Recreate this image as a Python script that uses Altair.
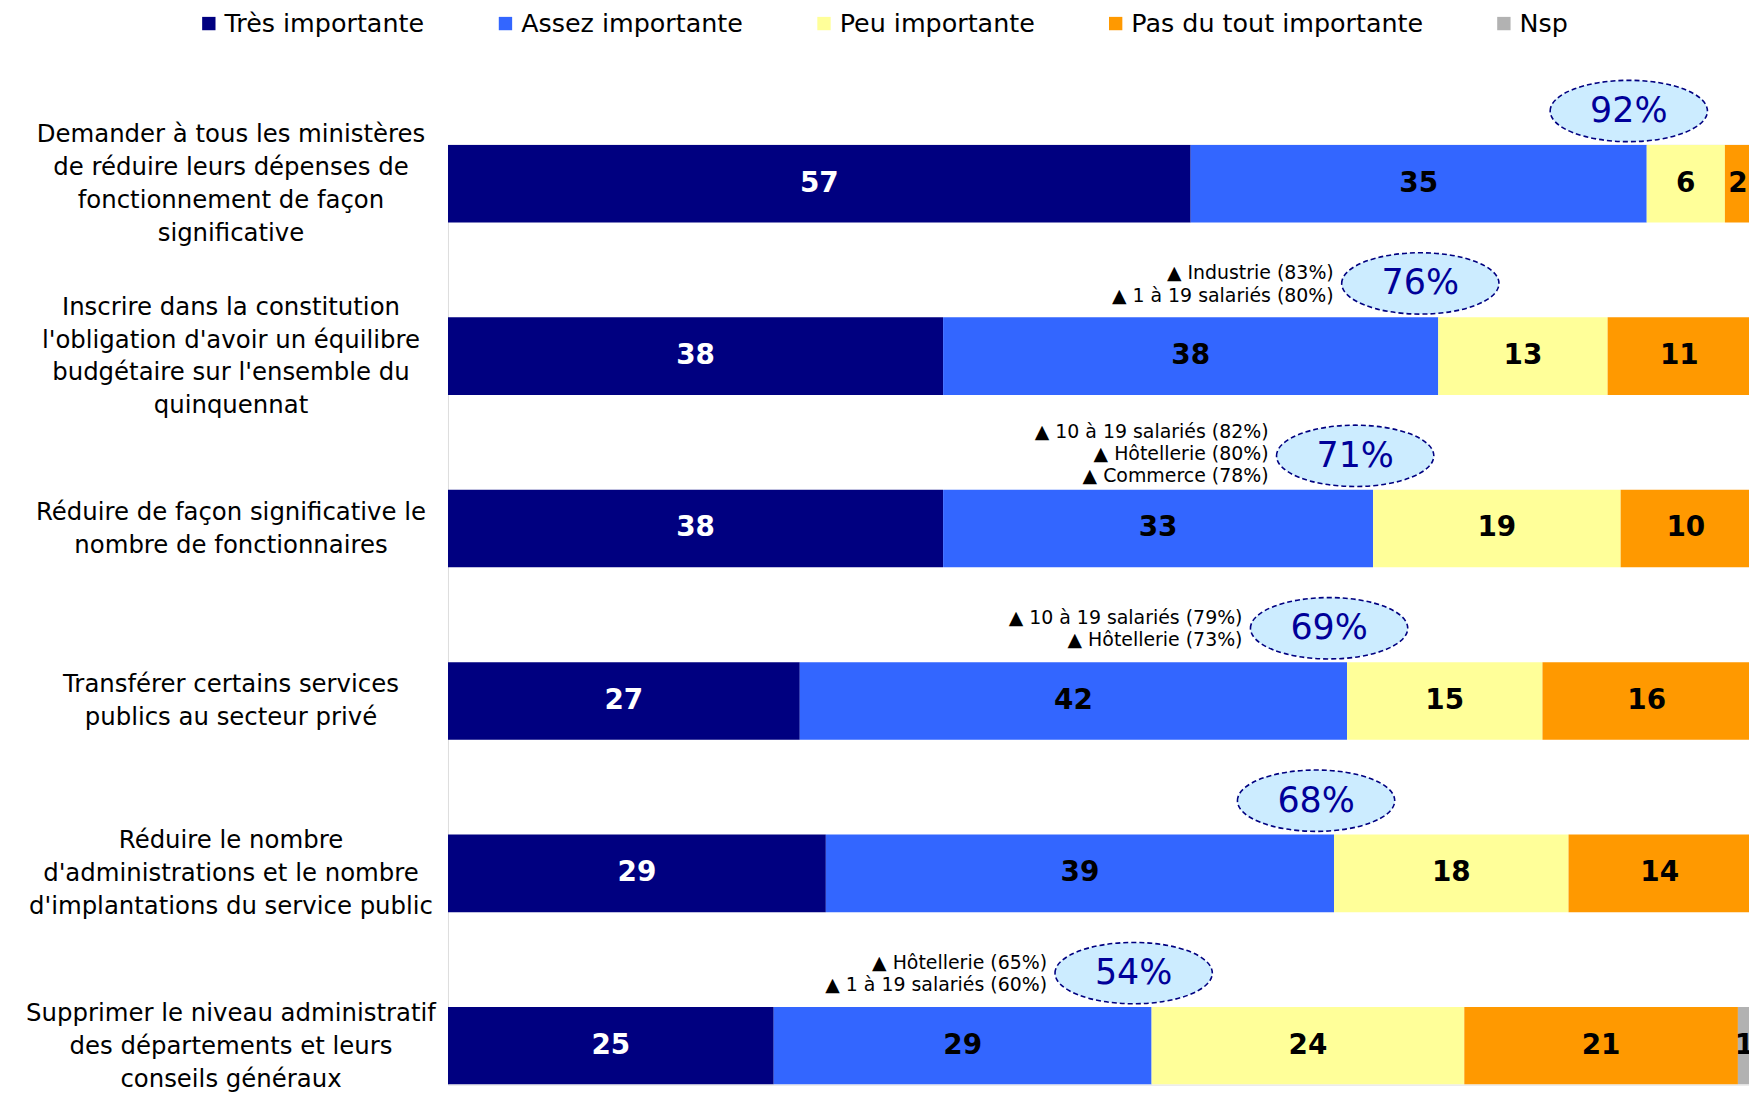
import altair as alt
import pandas as pd

categories = [
    "Demander à tous les ministères\nde réduire leurs dépenses de\nfonctionnement de façon\nsignificative",
    "Inscrire dans la constitution\nl'obligation d'avoir un équilibre\nbudgétaire sur l'ensemble du\nquinquennat",
    "Réduire de façon significative le\nnombre de fonctionnaires",
    "Transférer certains services\npublics au secteur privé",
    "Réduire le nombre\nd'administrations et le nombre\nd'implantations du service public",
    "Supprimer le niveau administratif\ndes départements et leurs\nconseils généraux",
]
series = ["Très importante", "Assez importante", "Peu importante", "Pas du tout importante", "Nsp"]
tres = [57, 38, 38, 27, 29, 25]
assez = [35, 38, 33, 42, 39, 29]
peu = [6, 13, 19, 15, 18, 24]
pas = [2, 11, 10, 16, 14, 21]
nsp = [0, 0, 0, 0, 0, 1]
notes = [
    "",
    "▲  Industrie (83%)\n▲ 1 à 19 salariés (80%)",
    "▲ 10 à 19 salariés (82%)\n▲ Hôtellerie (80%)\n▲ Commerce (78%)",
    "▲ 10 à 19 salariés (79%)\n▲ Hôtellerie (73%)",
    "",
    "▲  Hôtellerie (65%)\n▲ 1 à 19 salariés (60%)",
]
colors = ["#000080", "#3366FF", "#FFFF99", "#FF9900", "#B2B2B2"]

FONT = "DejaVu Sans"

rows = []
for i, cat in enumerate(categories):
    for j, (s, vals) in enumerate(zip(series, [tres, assez, peu, pas, nsp])):
        if vals[i] > 0:
            rows.append({"cat": cat, "series": s, "value": vals[i], "order": j,
                         "tcol": "white" if j == 0 else "black"})
df = pd.DataFrame(rows)

tot = pd.DataFrame({
    "cat": categories,
    "total": [a + b for a, b in zip(tres, assez)],
    "note": notes,
})
tot["pct"] = tot["total"].astype(str) + "%"
tot["ncat"] = [c.count("\n") + 1 for c in categories]
tot["nnote"] = [n.count("\n") + 1 if n else 0 for n in notes]

ysc = alt.Scale(domain=categories, paddingInner=0.55, paddingOuter=0)
xsc = alt.Scale(domain=[0, 99.85], nice=False, zero=True)
Y = alt.Y("cat:N", scale=ysc, axis=None, sort=categories)

bars = alt.Chart(df).mark_bar(clip=True).encode(
    y=Y,
    x=alt.X("value:Q", stack="zero", scale=xsc, axis=None),
    color=alt.Color(
        "series:N",
        scale=alt.Scale(domain=series, range=colors),
        legend=alt.Legend(
            title=None, orient="none", legendX=-253, legendY=-135,
            direction="horizontal", symbolType="square", symbolSize=180,
            symbolStrokeWidth=0, labelFont=FONT, labelFontSize=25.5,
            labelLimit=500, columnPadding=68, labelOffset=3, padding=0,
            labelColor="black",
        ),
    ),
    order=alt.Order("order:Q"),
)

vals = alt.Chart(df).transform_stack(
    stack="value", groupby=["cat"], as_=["x0", "x1"], sort=[alt.SortField("order")]
).transform_calculate(mid="(datum.x0 + datum.x1) / 2").mark_text(
    font=FONT, fontSize=28, fontWeight="bold", baseline="middle", align="center"
).encode(
    y=Y,
    x=alt.X("mid:Q", scale=xsc, axis=None),
    text="value:Q",
    color=alt.Color("tcol:N", scale=None),
)

CAT_LH = 33
cat_layers = []
for n in sorted(set(tot["ncat"])):
    cat_layers.append(
        alt.Chart(tot).transform_filter(f"datum.ncat == {n}").mark_text(
            font=FONT, fontSize=24.5, lineHeight=CAT_LH, lineBreak="\n",
            align="center", baseline="middle", color="black",
            dy=-(n - 1) / 2 * CAT_LH + 1,
        ).encode(y=Y, x=alt.value(-218), text="cat:N")
    )

# ellipse shape (unit coords, scaled by sqrt(size)/2 = 79 px), offset above bar
ox, oy, ry = -18 / 79, -73 / 79, 0.39
ell_path = (f"M{-1 + ox},{oy} A1,{ry} 0 1,1 {1 + ox},{oy} "
            f"A1,{ry} 0 1,1 {-1 + ox},{oy} Z")

ellipses = alt.Chart(tot).mark_point(
    shape=ell_path, size=158 * 158, filled=True, fill="#CCECFF",
    stroke="#000080", strokeWidth=1.6, strokeDash=[5, 3],
    opacity=1, fillOpacity=1, strokeOpacity=1,
).encode(y=Y, x=alt.X("total:Q", scale=xsc, axis=None))

pcts = alt.Chart(tot).mark_text(
    font=FONT, fontSize=35, color="#000099", dx=-18, dy=-73,
    baseline="middle", align="center"
).encode(y=Y, x=alt.X("total:Q", scale=xsc, axis=None), text="pct:N")

NOTE_LH = 22.4
note_layers = []
for n in sorted(set(tot["nnote"]) - {0}):
    note_layers.append(
        alt.Chart(tot).transform_filter(f"datum.nnote == {n}").mark_text(
            font=FONT, fontSize=19, lineHeight=NOTE_LH, lineBreak="\n", color="black",
            dx=-105, dy=-72 - (n - 1) / 2 * NOTE_LH - (3 if n == 3 else 0),
            baseline="middle", align="right"
        ).encode(y=Y, x=alt.X("total:Q", scale=xsc, axis=None), text="note:N")
    )

chart = alt.layer(bars, vals, *cat_layers, ellipses, pcts, *note_layers).properties(
    width=1307, height=944,
    padding={"left": 442, "top": 135, "right": 0, "bottom": 10},
    autosize=alt.AutoSizeParams(type="none"),
).configure_view(stroke=None).configure(font=FONT)

chart.save("out.html", embed_options={"renderer": "svg", "actions": False})
